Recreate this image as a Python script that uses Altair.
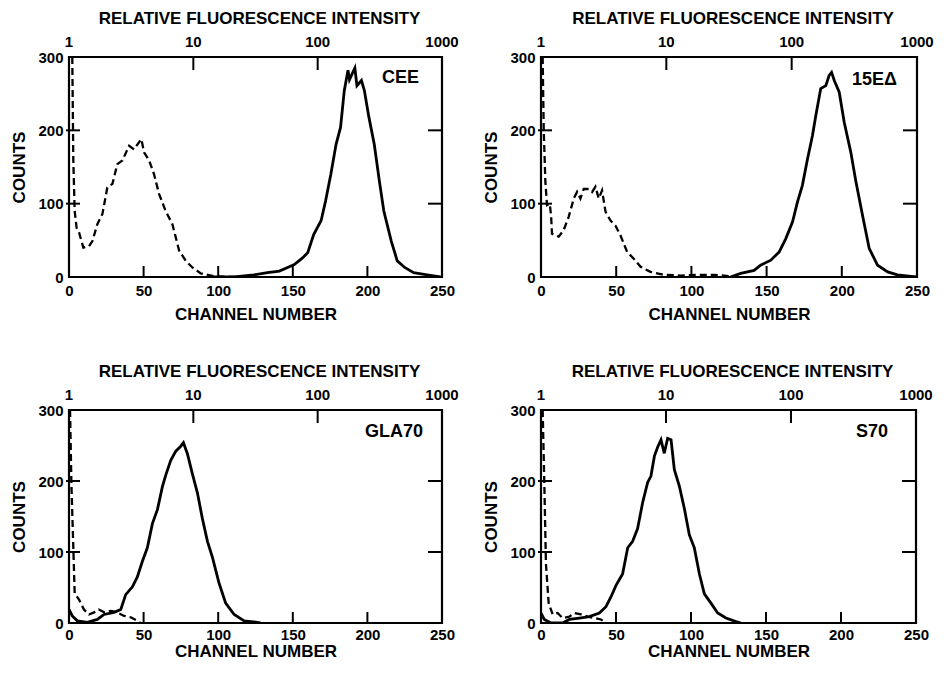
import altair as alt
import pandas as pd

FONT = "Liberation Sans"

# ---- data (channel number, counts) ----
CEE_CTRL_CH = [2.2, 2.9, 3.8, 5.1, 6.7, 9.6, 13.4, 15.7, 19, 22.4, 25.7, 29.1, 32.4, 35.8, 40.3, 43.6, 47, 48.5,
               50.3, 53.7, 57, 60.4, 64.8, 69.3, 73.8, 78.3, 82.7, 88.3, 97.3, 110.7, 117.4]
CEE_CTRL_CT = [300, 158, 90, 67, 61, 40, 42, 49, 72, 86, 122, 127, 154, 159, 179, 174, 184, 188,
               170, 159, 140, 113, 90, 72, 36, 22, 13, 5, 1, 0, 0]
CEE_CH = [97, 110.7, 124, 133, 141, 146.5, 151, 156.5, 160, 164, 169, 172, 175.5, 179, 182, 184.5, 187, 188,
          190, 191.6, 193, 196, 198, 201, 204.6, 208, 211, 216, 220, 225, 231, 240, 249]
CEE_CT = [0, 0, 3, 6, 8, 13, 17, 26, 33, 58, 77, 104, 140, 181, 204, 254, 282, 269,
          278, 285, 261, 268, 254, 218, 181, 131, 90, 49, 22, 13, 6, 3, 0]

E15_CTRL_CH = [1.1, 1.8, 2.9, 4, 5.8, 6.7, 7.3, 11.8, 15.1, 18.4, 21.8, 24, 26.2, 28.4, 31.7, 34, 36.2, 38.4,
               40.6, 42.9, 46.2, 49.5, 52.8, 57.3, 61.7, 66.2, 72.8, 81.7, 92.8, 104, 115, 126]
E15_CTRL_CT = [300, 202, 130, 98, 100, 84, 59, 55, 64, 82, 107, 116, 107, 120, 120, 116, 123, 107,
               118, 89, 77, 70, 57, 34, 25, 14, 7, 3, 2, 3, 3, 1]
E15_CH = [126, 132.8, 141.7, 146, 152.8, 158.3, 162.7, 167.2, 170.5, 173.8, 177.2, 180.5, 182.7, 186, 189.4,
          191.6, 193.2, 195, 198.3, 201.6, 206, 209.4, 213.8, 218.2, 223.8, 230.5, 237, 246, 250]
E15_CT = [0, 5, 9, 16, 23, 34, 52, 75, 102, 125, 161, 193, 220, 257, 261,
          275, 279, 268, 252, 211, 170, 130, 84, 39, 16, 7, 3, 1, 0]

GLA_CTRL_CH = [0.7, 1.6, 2.9, 3.8, 6.7, 10, 13.4, 16.8, 20, 23.5, 28, 32.4, 36.9, 41.4, 45.8, 48]
GLA_CTRL_CT = [300, 197, 106, 42, 33, 19, 12, 15, 19, 15, 17, 15, 10, 8, 3, 0]
GLA_CH = [0, 2.2, 5.6, 12.3, 19, 23.5, 30.2, 34.7, 38, 42.5, 45.8, 49.2, 52.5, 55.9, 59.3, 62.6, 64.8, 68.2,
          71.6, 74.9, 76.7, 79.4, 82.7, 86.1, 89.4, 92.8, 96.2, 100.6, 105, 110.7, 117.4, 126.3, 128.6]
GLA_CT = [19, 10, 3, 1, 5, 12, 15, 19, 40, 51, 65, 87, 106, 140, 160, 192, 208, 229,
          242, 249, 254, 238, 210, 183, 147, 115, 92, 56, 28, 12, 3, 1, 0]

S70_CTRL_CH = [1.1, 2.2, 3.3, 5.1, 7.8, 11.1, 14.4, 18.9, 22.2, 26.7, 31.1, 35.6, 40, 43.3]
S70_CTRL_CT = [300, 198, 83, 28, 12, 14, 7, 9, 14, 12, 9, 7, 5, 0]
S70_CH = [0, 2.2, 6.7, 14.4, 18.9, 25.6, 32.2, 38.9, 43.3, 46.7, 50, 54.4, 57.8, 61.1, 64.4, 67.8, 71.1, 73.3,
          75.6, 77.8, 80, 82.2, 84.4, 86.7, 88.9, 92.2, 95.6, 98.9, 102.2, 105.6, 108.9, 113.3, 117.8, 123.3,
          130, 133.3]
S70_CT = [14, 5, 0, 0, 5, 7, 9, 14, 23, 37, 53, 69, 106, 115, 133, 170, 198, 207,
          235, 248, 258, 239, 260, 258, 216, 193, 161, 124, 106, 69, 41, 28, 14, 7,
          2, 0]

BOTTOM_TICKS = [0, 50, 100, 150, 200, 250]
INNER_BOTTOM_TICKS = [50, 100, 150, 200]
LEFT_TICKS = [0, 100, 200, 300]
INNER_Y_TICKS = [100, 200]
TOP_LABELS = [1, 10, 100, 1000]          # relative fluorescence intensity (log, 3 decades over 250 channels)
INNER_TOP_TICKS = [10, 100]

LOG_TO_CH = "250 * log(datum.rfi) / log(1000)"


def panel(label, dch, dct, sch, sct, W, H, xlab_pad, xtitle_pad, lab_dx, lab_dy):
    xs = alt.Scale(domain=[0, 250], nice=False, zero=False)
    ys = alt.Scale(domain=[0, 300], nice=False)
    xax = alt.Axis(values=BOTTOM_TICKS, title="CHANNEL NUMBER", labelFlush=False, labelPadding=xlab_pad,
                   titlePadding=xtitle_pad, format="d")
    yax = alt.Axis(values=LEFT_TICKS, title="COUNTS", labelPadding=6, titlePadding=9, format="d")
    X = alt.X("ch:Q", scale=xs, axis=xax)
    Y = alt.Y("ct:Q", scale=ys, axis=yax)

    dashed = alt.Chart(pd.DataFrame({"ch": dch, "ct": dct})).mark_line(
        color="black", strokeWidth=2.3, strokeDash=[7, 4], clip=True).encode(x=X, y=Y)
    solid = alt.Chart(pd.DataFrame({"ch": sch, "ct": sct})).mark_line(
        color="black", strokeWidth=2.8, clip=True).encode(x=X, y=Y)

    bt = alt.Chart(pd.DataFrame({"ch": INNER_BOTTOM_TICKS})).mark_rule(color="black", strokeWidth=2).encode(
        x=X, y=alt.value(H), y2=alt.value(H - 11))
    lt = alt.Chart(pd.DataFrame({"ct": INNER_Y_TICKS})).mark_rule(color="black", strokeWidth=2).encode(
        y=Y, x=alt.value(-3), x2=alt.value(11))
    rt = alt.Chart(pd.DataFrame({"ct": INNER_Y_TICKS})).mark_rule(color="black", strokeWidth=2).encode(
        y=Y, x=alt.value(W), x2=alt.value(W - 14))

    tt = alt.Chart(pd.DataFrame({"rfi": INNER_TOP_TICKS})).transform_calculate(ch=LOG_TO_CH).mark_rule(
        color="black", strokeWidth=2).encode(x=X, y=alt.value(0), y2=alt.value(13))
    tl = alt.Chart(pd.DataFrame({"rfi": TOP_LABELS})).transform_calculate(ch=LOG_TO_CH).mark_text(
        baseline="alphabetic", align="center", font=FONT, fontSize=15, fontWeight="bold", color="black"
    ).encode(x=X, y=alt.value(-10), text=alt.Text("rfi:Q", format="d"))

    txt = alt.Chart(pd.DataFrame({"t": [label]})).mark_text(
        align="right", baseline="middle", font=FONT, fontSize=18, fontWeight="bold", color="black").encode(
        text="t:N", x=alt.value(W - lab_dx), y=alt.value(lab_dy))

    return alt.layer(dashed, solid, bt, lt, rt, tt, tl, txt).properties(
        width=W, height=H,
        title=alt.TitleParams("RELATIVE FLUORESCENCE INTENSITY", font=FONT, fontSize=17, fontWeight="bold",
                              color="black", offset=7, anchor="middle", frame="group", dx=4))


p1 = panel("CEE", CEE_CTRL_CH, CEE_CTRL_CT, CEE_CH, CEE_CT, 373, 220, 6, 8, 23, 21)
p2 = panel("15EΔ", E15_CTRL_CH, E15_CTRL_CT, E15_CH, E15_CT, 376, 220, 6, 8, 20, 23)
p3 = panel("GLA70", GLA_CTRL_CH, GLA_CTRL_CT, GLA_CH, GLA_CT, 373, 213, 4, 1, 19, 22)
p4 = panel("S70", S70_CTRL_CH, S70_CTRL_CT, S70_CH, S70_CT, 375, 213, 4, 1, 28, 22)

chart = alt.vconcat(
    alt.hconcat(p1, p2, spacing=21),
    alt.hconcat(p3, p4, spacing=21),
    spacing=37,
).properties(
    padding={"left": 1, "top": 0, "right": 0, "bottom": 0}, background="white"
).configure_view(
    stroke="black", strokeWidth=2.2
).configure_axis(
    grid=False, domain=False, ticks=False, tickSize=0,
    labelFont=FONT, labelFontSize=15, labelFontWeight="bold", labelColor="black",
    titleFont=FONT, titleFontSize=17, titleFontWeight="bold", titleColor="black",
)

chart.save("out.html", embed_options={"renderer": "svg", "actions": False})
